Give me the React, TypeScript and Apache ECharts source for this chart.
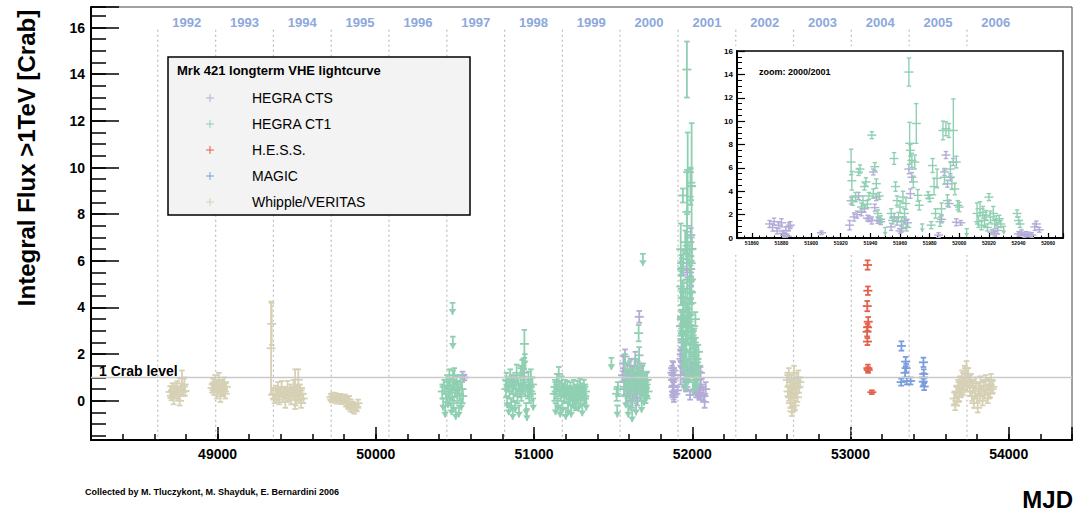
import React, { useEffect, useRef } from 'react';
import * as echarts from 'echarts';

// ---------- axes ----------
const X_MIN = 48200;
const X_MAX = 54400;
const Y_MIN = -1.68;
const Y_MAX = 16.88;
const INSET_X_MIN = 51850;
const INSET_X_MAX = 52070;
const INSET_Y_MIN = 0;
const INSET_Y_MAX = 16;
const CRAB_LEVEL = 1;
const YEAR_LINE_TOP = 15.9;
const YEAR_LABEL_Y = 16.23;

// ---------- years ----------
const yearBoundaries = [48622, 48988, 49353, 49718, 50083, 50449, 50814, 51179, 51544, 51910, 52275, 52640, 53005, 53371, 53736];
const yearEnd2006 = 54101;
const yearLabels = ['1992', '1993', '1994', '1995', '1996', '1997', '1998', '1999', '2000', '2001', '2002', '2003', '2004', '2005', '2006'];

// ---------- instruments ----------
const instrumentNames = ['HEGRA CTS', 'HEGRA CT1', 'H.E.S.S.', 'MAGIC', 'Whipple/VERITAS'];
const instrumentColors = ['#b3acd6', '#8fcfb2', '#e2604c', '#7a9ddd', '#d6d1b5'];

// [MJD, flux (Crab), error, upperLimitArrow]
const hegraCTS = [
  [50548, 1.1, 0.15], [50560, 1.0, 0.12],
  [50858, 0.95, 0.15], [50866, 0.8, 0.2], [50935, 1.2, 0.15],
  [51560, 1.1, 0.3], [51565, 1.6, 0.35], [51570, 0.5, 0.3], [51575, 1.9, 0.3], [51580, 0.9, 0.3],
  [51585, 0.2, 0.3], [51590, 1.3, 0.3], [51595, 0.6, 0.3], [51600, 1.0, 0.3], [51605, 0.3, 0.3],
  [51610, 1.5, 0.3], [51615, 0.8, 0.3], [51620, 0.0, 0.3], [51625, 1.2, 0.3], [51630, 0.6, 0.3],
  [51635, 1.1, 0.3], [51640, 1.8, 0.3], [51644, 0.4, 0.3], [51648, 0.9, 0.3], [51652, 0.1, 0.3],
  [51655, 1.4, 0.3], [51665, 3.6, 0.25], [51670, 1.0, 0.3], [51674, 0.3, 0.3],
  [51678, 0.5, 0.3], [51685, 1.2, 0.3], [51692, 0.7, 0.3], [51700, 0.2, 0.3], [51710, 0.9, 0.3],
  [51872, 1.2, 0.3], [51874, 0.9, 0.3], [51875, 1.4, 0.3], [51877, 0.6, 0.25], [51878, 1.1, 0.3],
  [51880, 1.3, 0.35], [51881, 0.4, 0.2], [51882, 0.25, 0.2], [51883, 0.65, 0.3], [51884, 0.15, 0.2],
  [51885, 0.95, 0.35], [51886, 1.1, 0.3], [51907, 0.45, 0.15],
  [51926, 1.1, 0.4], [51927, 3.2, 0.3], [51929, 1.8, 0.35], [51931, 2.0, 0.3], [51932, 3.6, 0.3],
  [51934, 2.2, 0.3], [51936, 2.5, 0.3], [51938, 1.7, 0.25], [51939, 1.65, 0.25], [51941, 1.5, 0.3],
  [51942, 5.65, 0.25], [51943, 2.6, 0.3], [51944, 3.5, 0.3], [51945, 1.5, 0.25], [51947, 1.4, 0.25],
  [51954, 0.95, 0.3], [51956, 1.8, 0.3], [51958, 1.4, 0.3], [51960, 0.6, 0.2], [51961, 0.8, 0.3],
  [51963, 1.5, 0.3], [51965, 1.3, 0.3], [51966, 5.9, 0.4], [51967, 3.8, 0.4], [51968, 5.2, 0.4],
  [51986, 0.25, 0.2], [51988, 1.6, 0.3], [51990, 5.65, 0.3], [51991, 7.1, 0.3], [51992, 4.65, 0.3],
  [51993, 2.95, 0.3], [51994, 5.2, 0.3], [51996, 6.5, 0.3], [51998, 1.35, 0.3], [52001, 1.3, 0.2],
  [52022, 0.5, 0.2], [52024, 0.35, 0.2], [52026, 0.65, 0.3],
  [52040, 0.35, 0.2], [52042, 0.5, 0.2], [52044, 0.2, 0.15], [52045, 0.35, 0.2], [52047, 0.3, 0.2],
  [52049, 0.25, 0.2], [52051, 0.95, 0.3], [52052, 1.2, 0.25], [52054, 0.7, 0.2],
  [52072, 0.3, 0.3], [52078, -0.05, 0.25], [52085, 0.5, 0.3],
];

const hegraCT1 = [
  // 1997
  [50485, 4.2, 0, 1], [50487, 2.75, 0, 1],
  [50420, 0.4, 0.3], [50425, 0.1, 0.35, 1], [50432, 0.6, 0.3], [50438, -0.2, 0.3, 1], [50445, 0.3, 0.35],
  [50450, 0.8, 0.3], [50455, 0.2, 0.3, 1], [50460, 0.5, 0.35], [50465, 1.0, 0.35], [50468, 0.1, 0.3],
  [50472, 0.65, 0.3], [50478, -0.1, 0.3, 1], [50482, 0.35, 0.3], [50488, 0.9, 0.4], [50492, 0.0, 0.3, 1],
  [50496, 1.1, 0.3], [50500, 0.45, 0.3], [50505, -0.3, 0.3, 1], [50510, 0.7, 0.35], [50515, 0.2, 0.3],
  [50520, 0.55, 0.3], [50525, -0.2, 0.3, 1], [50530, 0.3, 0.3], [50535, 0.8, 0.3], [50540, 0.1, 0.3, 1],
  [50545, 0.5, 0.3], [50550, 0.2, 0.3],
  // 1998
  [50822, 0.5, 0.35], [50826, 0.9, 0.3], [50830, 0.2, 0.35, 1], [50835, 0.7, 0.3], [50840, -0.1, 0.3, 1],
  [50845, 0.4, 0.3], [50850, 1.0, 0.35], [50855, 0.1, 0.3, 1], [50860, 0.6, 0.3], [50865, -0.3, 0.3, 1],
  [50870, 0.3, 0.35], [50875, 0.8, 0.3], [50880, 0.0, 0.3, 1], [50885, 0.5, 0.3], [50890, 1.2, 0.35],
  [50895, 0.2, 0.3], [50900, 0.7, 0.3], [50905, -0.2, 0.3, 1], [50910, 0.45, 0.3], [50915, 1.1, 0.4],
  [50920, 0.3, 0.3], [50925, 1.4, 0.35], [50928, 0.6, 0.3], [50932, 1.8, 0.4, 1], [50936, 1.0, 0.35],
  [50939, 2.44, 0.6], [50942, 2.0, 0.35, 1], [50945, 0.5, 0.3], [50950, -0.1, 0.3, 1], [50955, -0.35, 0.3, 1],
  [50960, 0.4, 0.3], [50965, 0.9, 0.35], [50970, 0.2, 0.3], [50975, 0.6, 0.3], [50980, 1.0, 0.35],
  [50985, 0.3, 0.3], [50990, 0.7, 0.3], [50995, 0.1, 0.3, 1],
  // 1999
  [51128, 0.3, 0.3], [51132, 0.6, 0.3], [51136, -0.1, 0.3, 1], [51140, 0.4, 0.3], [51145, 0.8, 0.35],
  [51150, 0.1, 0.3, 1], [51156, 1.15, 0.3], [51160, 0.5, 0.3], [51165, -0.2, 0.3, 1], [51170, 0.3, 0.3],
  [51175, 0.7, 0.35], [51180, 0.0, 0.3, 1], [51185, 0.45, 0.3], [51190, 0.2, 0.3], [51195, 0.6, 0.3],
  [51200, -0.3, 0.3, 1], [51205, 0.25, 0.3], [51210, 0.55, 0.3], [51215, -0.1, 0.3, 1], [51220, 0.35, 0.3],
  [51225, 0.1, 0.3], [51230, 0.5, 0.3], [51235, -0.2, 0.3, 1], [51240, 0.3, 0.3], [51245, 0.0, 0.3],
  [51250, 0.6, 0.3], [51255, 0.15, 0.3, 1], [51260, 0.4, 0.3], [51265, -0.1, 0.3], [51270, 0.3, 0.3],
  [51275, 0.55, 0.3], [51280, 0.05, 0.3, 1], [51285, 0.35, 0.3], [51290, 0.65, 0.3], [51295, 0.1, 0.3],
  [51300, 0.45, 0.3], [51305, -0.15, 0.3, 1], [51310, 0.3, 0.3], [51315, 0.6, 0.3], [51320, 0.2, 0.3],
  [51325, 0.4, 0.3], [51330, 0.1, 0.3, 1],
  // 2000
  [51489, 1.84, 0, 1], [51522, 0.3, 0.3], [51526, -0.2, 0.3, 1], [51530, 0.5, 0.3],
  [51570, 0.6, 0.35], [51575, 1.6, 0.4], [51580, 0.2, 0.3, 1], [51585, 1.0, 0.35], [51590, 0.4, 0.3],
  [51595, -0.2, 0.3, 1], [51600, 0.8, 0.35], [51605, 1.3, 0.4], [51610, 0.1, 0.3, 1], [51615, 0.6, 0.3],
  [51620, -0.4, 0.3, 1], [51625, 0.9, 0.35], [51630, 0.3, 0.3], [51635, 1.4, 0.4], [51640, 0.5, 0.3],
  [51645, -0.1, 0.3, 1], [51650, 1.1, 0.35], [51655, 0.7, 0.3], [51661, 2.9, 0.35], [51664, 1.95, 0.35],
  [51668, 1.2, 0.4], [51672, 0.4, 0.3], [51676, 0.9, 0.35], [51680, 0.0, 0.3, 1], [51685, 0.6, 0.3],
  [51688, 6.3, 0, 1], [51690, 1.2, 0.4], [51695, 0.3, 0.3, 1], [51700, 0.8, 0.35], [51705, 0.2, 0.3],
  [51710, 0.5, 0.3, 1], [51715, 0.9, 0.35], [51720, 0.4, 0.3],
  // 2000/2001 flare
  [51927, 6.5, 1.1], [51927.5, 4.9, 0.8], [51928, 3.2, 0.4], [51930, 3.5, 0.4], [51932, 5.65, 0.3],
  [51933, 5.9, 0.35], [51934, 2.65, 0.35], [51935, 3.2, 0.4], [51936, 4.4, 0.3], [51937, 4.8, 0.35],
  [51938, 2.9, 0.3], [51939, 3.6, 0.3], [51941, 8.8, 0.3], [51942, 3.8, 0.4], [51943, 6.1, 0.35],
  [51944, 4.65, 0.4], [51945, 2.1, 0.3], [51946, 3.6, 0.3], [51947, 1.6, 0.3], [51950, 0.9, 0, 1],
  [51954, 2.1, 0.4], [51955, 1.5, 0.3], [51956, 6.8, 0.5], [51957, 4.4, 0.4], [51958, 3.2, 0.4],
  [51959, 1.8, 0.4], [51960, 2.65, 0.5], [51961, 1.4, 0.4], [51962, 3.5, 0.5], [51963, 2.1, 0.4],
  [51964, 2.95, 0.5], [51964.5, 0.9, 0.3], [51966, 14.2, 1.2], [51966.5, 8.1, 1.8], [51967, 7.5, 0.5],
  [51968, 6.65, 0.6], [51969, 4.8, 0.5], [51970, 6.5, 0.6], [51971, 9.8, 1.7], [51972, 3.65, 0.5],
  [51973, 2.8, 0.4], [51975, 1.2, 0, 1], [51979, 3.65, 0.3], [51980, 3.4, 0.3], [51981, 1.1, 0.3],
  [51982, 6.2, 0.6], [51983, 4.4, 0.7], [51984, 2.1, 0.4], [51985, 5.1, 0.8], [51987, 1.4, 0.4],
  [51988, 2.5, 0.5], [51989, 9.2, 0.8], [51990, 5.2, 0.6], [51991, 9.35, 0.6], [51992, 3.2, 0.5],
  [51993, 9.2, 0.6], [51994, 5.9, 0.6], [51995, 4.65, 0.5], [51996, 9.2, 2.7], [51997, 4.2, 0.5],
  [51998, 6.5, 0.5], [51999, 2.8, 0.4], [52000, 2.65, 0.4], [52005, 0.8, 0, 1],
  [52012, 2.1, 0.9], [52013, 1.4, 0.5], [52014, 2.5, 0.6], [52015, 1.1, 0.4], [52016, 2.2, 0.5],
  [52017, 1.5, 0.5], [52018, 1.95, 0.4], [52019, 0.9, 0.3], [52020, 3.5, 0.3], [52021, 1.8, 0.5],
  [52023, 2.1, 0.6], [52024, 1.2, 0.4], [52025, 1.5, 0.4], [52027, 1.65, 0.3], [52028, 1.2, 0.3],
  [52030, 1.0, 0, 1], [52039, 2.1, 0.3], [52040, 1.5, 0.3], [52041, 1.2, 0.3],
];

const hess = [
  [53108, 5.82, 0.2], [53110, 4.72, 0.18], [53106, 4.06, 0.22], [53112, 3.39, 0.2], [53108, 3.15, 0.15],
  [53105, 2.96, 0.2], [53107, 2.54, 0.15], [53110, 1.4, 0.15], [53112, 1.32, 0.12], [53135, 0.37, 0.08],
];

const magic = [
  [53322, 2.35, 0.2], [53349, 1.68, 0.2], [53352, 1.4, 0.18], [53345, 1.2, 0.2], [53320, 0.8, 0.15],
  [53356, 0.85, 0.15], [53380, 0.85, 0.15], [53461, 1.65, 0.2], [53463, 1.15, 0.2], [53460, 0.82, 0.15],
  [53466, 0.61, 0.15], [53462, 1.0, 0.18],
];

const whipple = [
  // 1992
  [48700, 0.38, 0.25], [48708, 0.22, 0.2], [48715, 0.45, 0.3], [48722, 0.1, 0.25], [48730, 0.55, 0.2],
  [48738, 0.35, 0.18], [48745, 0.62, 0.22], [48752, 0.28, 0.2], [48760, 0.0, 0.2], [48768, 0.5, 0.25],
  [48775, 0.95, 0.35], [48782, 0.4, 0.2], [48790, 0.7, 0.3], [48795, 0.42, 0.2],
  // 1993
  [48965, 0.55, 0.2], [48972, 0.7, 0.25], [48978, 0.45, 0.2], [48985, 0.8, 0.3], [48990, 0.6, 0.2],
  [48996, 0.35, 0.25], [49002, 0.65, 0.2], [49008, 0.9, 0.3], [49012, 0.5, 0.2], [49018, 0.2, 0.25],
  [49025, 0.7, 0.2], [49030, 0.55, 0.3], [49036, 0.4, 0.2], [49042, 0.75, 0.25], [49048, 0.3, 0.2],
  [49055, 0.6, 0.2],
  // 1994
  [49338, 2.25, 2.0], [49342, 3.3, 0.9],
  [49352, 0.3, 0.25], [49360, 0.1, 0.2], [49368, 0.45, 0.2], [49375, 0.2, 0.25], [49382, 0.5, 0.3],
  [49390, 0.05, 0.2], [49398, 0.35, 0.2], [49405, 0.6, 0.25], [49412, 0.15, 0.2], [49420, 0.4, 0.2],
  [49428, -0.05, 0.25], [49435, 0.3, 0.2], [49442, 0.55, 0.3], [49450, 0.2, 0.2], [49458, 0.45, 0.25],
  [49465, 0.05, 0.2], [49472, 0.35, 0.2], [49480, 0.6, 0.3], [49488, 0.25, 0.2], [49490, 0.5, 0.85],
  [49495, 0.05, 0.25], [49500, 0.5, 0.2], [49506, 0.3, 0.3], [49510, 0.9, 0.45], [49515, 0.2, 0.2],
  [49522, 0.45, 0.25], [49528, -0.1, 0.2], [49535, 0.3, 0.25], [49542, 0.1, 0.2],
  // 1995
  [49715, 0.15, 0.15], [49722, 0.05, 0.12], [49730, 0.2, 0.15], [49738, 0.1, 0.12], [49745, 0.18, 0.15],
  [49752, 0.0, 0.12], [49760, 0.12, 0.15], [49768, 0.08, 0.12], [49775, 0.15, 0.15], [49782, -0.02, 0.12],
  [49790, 0.1, 0.15], [49798, 0.05, 0.12], [49805, 0.12, 0.15], [49812, -0.1, 0.15], [49818, 0.08, 0.12],
  [49825, -0.2, 0.15], [49832, 0.05, 0.15], [49838, -0.3, 0.15], [49845, -0.15, 0.12], [49852, -0.35, 0.15],
  [49858, -0.2, 0.15], [49865, -0.4, 0.15], [49872, -0.25, 0.12], [49880, -0.3, 0.15], [49888, -0.1, 0.15],
  // 2002/2003
  [52600, 0.9, 0.3], [52605, 0.4, 0.25], [52610, 1.1, 0.3], [52612, 0.2, 0.2], [52618, 0.6, 0.25],
  [52620, -0.1, 0.2], [52625, 0.8, 0.3], [52628, 0.3, 0.2], [52630, -0.45, 0.2], [52632, -0.3, 0.2],
  [52635, 0.5, 0.25], [52640, 0.1, 0.2], [52643, 1.2, 0.3], [52648, 0.7, 0.25], [52650, -0.2, 0.2],
  [52655, 0.35, 0.2], [52658, 0.95, 0.25], [52662, 0.55, 0.2], [52665, 0.15, 0.2], [52670, 1.0, 0.3],
  [52675, 0.6, 0.25], [52680, 0.8, 0.2],
  // 2005/2006
  [53655, 0.1, 0.25], [53662, -0.2, 0.2], [53668, 0.4, 0.25], [53675, 0.0, 0.2], [53680, 0.6, 0.3],
  [53686, 0.2, 0.25], [53692, 0.8, 0.25], [53698, 0.35, 0.2], [53705, 1.0, 0.3], [53710, 0.5, 0.25],
  [53716, 0.7, 0.25], [53722, 1.2, 0.3], [53728, 0.9, 0.25], [53733, 1.4, 0.3], [53738, 0.6, 0.2],
  [53744, 1.1, 0.3], [53750, 0.8, 0.25], [53755, 0.4, 0.2], [53762, 0.9, 0.25], [53768, 0.2, 0.2],
  [53774, 0.6, 0.25], [53780, -0.1, 0.2], [53786, 0.4, 0.25], [53792, 0.75, 0.25], [53798, 0.1, 0.2],
  [53804, -0.3, 0.2], [53810, 0.5, 0.25], [53816, 0.2, 0.2], [53822, 0.8, 0.25], [53828, 0.4, 0.2],
  [53835, 0.0, 0.2], [53842, 0.65, 0.25], [53848, 0.3, 0.2], [53855, 0.85, 0.25], [53862, 0.45, 0.2],
  [53868, 0.1, 0.2], [53875, 0.7, 0.25], [53882, 0.35, 0.2], [53888, 0.9, 0.25], [53895, 0.5, 0.2],
  [53900, 0.6, 0.25],
];

const instrumentData = [hegraCTS, hegraCT1, hess, magic, whipple];

const FONT = '"Liberation Sans", Arial, Helvetica, sans-serif';

function norm(pts: number[][]) {
  return pts.map((p) => [p[0], p[1], p[2], p[3] === 1 ? 1 : 0]);
}

function errRender(color: string, s: { cap: number; arm: number; lw: number; head: number; arrow: number }) {
  return (_params: any, api: any) => {
    const x = api.value(0);
    const y = api.value(1);
    const e = api.value(2);
    const ul = api.value(3);
    const p = api.coord([x, y]);
    const st = { stroke: color, lineWidth: s.lw };
    const ch: any[] = [];
    if (ul === 1) {
      ch.push({ type: 'line', shape: { x1: p[0] - s.cap, y1: p[1], x2: p[0] + s.cap, y2: p[1] }, style: st });
      ch.push({ type: 'line', shape: { x1: p[0], y1: p[1], x2: p[0], y2: p[1] + s.arrow }, style: st });
      ch.push({
        type: 'polygon',
        shape: {
          points: [
            [p[0] - s.head, p[1] + s.arrow - s.head * 1.5],
            [p[0] + s.head, p[1] + s.arrow - s.head * 1.5],
            [p[0], p[1] + s.arrow],
          ],
        },
        style: { fill: color },
      });
    } else {
      const hi = api.coord([x, y + e]);
      const lo = api.coord([x, y - e]);
      ch.push({ type: 'line', shape: { x1: p[0], y1: lo[1], x2: p[0], y2: hi[1] }, style: st });
      ch.push({ type: 'line', shape: { x1: p[0] - s.cap, y1: hi[1], x2: p[0] + s.cap, y2: hi[1] }, style: st });
      ch.push({ type: 'line', shape: { x1: p[0] - s.cap, y1: lo[1], x2: p[0] + s.cap, y2: lo[1] }, style: st });
      ch.push({ type: 'line', shape: { x1: p[0] - s.arm, y1: p[1], x2: p[0] + s.arm, y2: p[1] }, style: st });
    }
    return { type: 'group', children: ch };
  };
}

const MAIN_STYLE = { cap: 2.8, arm: 4.5, lw: 1.8, head: 3.8, arrow: 12 };
const INSET_STYLE = { cap: 2.2, arm: 4.5, lw: 1.4, head: 2.5, arrow: 8 };

function txt(text: string, x: number, y: number, font: string, align = 'left', extra: any = {}) {
  return {
    type: 'text',
    x,
    y,
    z: 40,
    ...extra,
    style: {
      text,
      font,
      fill: '#000',
      align,
      verticalAlign: 'middle',
      textAlign: align,
      textVerticalAlign: 'middle',
    },
  };
}

function buildOption() {
  const series: any[] = [];

  // year boundaries (dotted)
  series.push({
    type: 'custom',
    name: 'years',
    xAxisIndex: 0,
    yAxisIndex: 0,
    silent: true,
    z: 1,
    data: yearBoundaries.map((b) => [b, YEAR_LINE_TOP]),
    renderItem: (_p: any, api: any) => {
      const top = api.coord([api.value(0), YEAR_LINE_TOP]);
      const bot = api.coord([api.value(0), Y_MIN]);
      return {
        type: 'line',
        shape: { x1: top[0], y1: top[1], x2: bot[0], y2: bot[1] },
        style: { stroke: '#bdbdbd', lineWidth: 1.2, lineDash: [2, 3] },
      };
    },
  });

  // year labels
  const yearMid = yearBoundaries.map((b, i) => (b + (i + 1 < yearBoundaries.length ? yearBoundaries[i + 1] : yearEnd2006)) / 2);
  series.push({
    type: 'custom',
    name: 'yearLabels',
    xAxisIndex: 0,
    yAxisIndex: 0,
    silent: true,
    z: 1,
    data: yearMid.map((m, i) => [m, YEAR_LABEL_Y, i]),
    renderItem: (_p: any, api: any) => {
      const c = api.coord([api.value(0), api.value(1)]);
      return {
        type: 'text',
        x: c[0],
        y: c[1],
        style: {
          text: yearLabels[api.value(2)],
          font: `bold 13px ${FONT}`,
          fill: '#8ca8dc',
          align: 'center',
          verticalAlign: 'middle',
          textAlign: 'center',
          textVerticalAlign: 'middle',
        },
      };
    },
  });

  // main data
  instrumentData.forEach((d, i) => {
    series.push({
      type: 'custom',
      name: instrumentNames[i],
      xAxisIndex: 0,
      yAxisIndex: 0,
      clip: true,
      z: 2,
      dimensions: ['mjd', 'flux', 'err', 'ul'],
      encode: { x: 0, y: 1 },
      data: norm(d),
      renderItem: errRender(instrumentColors[i], MAIN_STYLE),
    });
  });

  // 1 Crab level
  series.push({
    type: 'line',
    name: '1 Crab level',
    xAxisIndex: 0,
    yAxisIndex: 0,
    silent: true,
    z: 4,
    symbol: 'none',
    data: [
      [X_MIN, CRAB_LEVEL],
      [X_MAX, CRAB_LEVEL],
    ],
    lineStyle: { color: '#c9c9c9', width: 1.6 },
  });

  // inset data (zoom 2000/2001)
  [0, 1].forEach((i) => {
    const d = instrumentData[i].filter((p) => p[0] >= INSET_X_MIN && p[0] <= INSET_X_MAX);
    series.push({
      type: 'custom',
      name: instrumentNames[i] + ' (zoom)',
      xAxisIndex: 2,
      yAxisIndex: 2,
      clip: true,
      z: 12,
      dimensions: ['mjd', 'flux', 'err', 'ul'],
      encode: { x: 0, y: 1 },
      data: norm(d),
      renderItem: errRender(instrumentColors[i], INSET_STYLE),
    });
  });

  const boldLabel = (size: number, margin: number, step: number) => ({
    color: '#000',
    fontWeight: 'bold',
    fontSize: size,
    fontFamily: FONT,
    margin,
    formatter: (v: number) => (Math.abs(v / step - Math.round(v / step)) < 1e-6 ? String(Math.round(v)) : ''),
  });

  const xAxis = [
    {
      gridIndex: 0,
      type: 'value',
      position: 'bottom',
      min: X_MIN,
      max: X_MAX,
      minInterval: 1000,
      maxInterval: 1000,
      splitNumber: 6,
      axisLine: { show: true, onZero: false, lineStyle: { color: '#000', width: 2 } },
      axisTick: { show: true, inside: true, length: 13, lineStyle: { color: '#000', width: 1.5 } },
      axisLabel: boldLabel(14, 7, 1000),
      splitLine: { show: false },
    },
    {
      gridIndex: 0,
      type: 'value',
      position: 'bottom',
      min: X_MIN,
      max: X_MAX,
      interval: 200,
      axisLine: { show: false, onZero: false },
      axisTick: { show: true, inside: true, length: 6, lineStyle: { color: '#000', width: 1.5 } },
      axisLabel: { show: false },
      splitLine: { show: false },
    },
    {
      gridIndex: 1,
      type: 'value',
      position: 'bottom',
      min: INSET_X_MIN,
      max: INSET_X_MAX,
      minInterval: 20,
      maxInterval: 20,
      splitNumber: 11,
      z: 10,
      axisLine: { show: true, onZero: false, lineStyle: { color: '#000', width: 2 } },
      axisTick: { show: true, inside: true, length: 5, lineStyle: { color: '#000', width: 1.2 } },
      axisLabel: boldLabel(5, 2, 20),
      splitLine: { show: false },
    },
    {
      gridIndex: 1,
      type: 'value',
      position: 'bottom',
      min: INSET_X_MIN,
      max: INSET_X_MAX,
      interval: 5,
      z: 10,
      axisLine: { show: false, onZero: false },
      axisTick: { show: true, inside: true, length: 2.5, lineStyle: { color: '#000', width: 1 } },
      axisLabel: { show: false },
      splitLine: { show: false },
    },
  ];

  const yAxis = [
    {
      gridIndex: 0,
      type: 'value',
      position: 'left',
      min: Y_MIN,
      max: Y_MAX,
      minInterval: 2,
      maxInterval: 2,
      splitNumber: 9,
      axisLine: { show: true, onZero: false, lineStyle: { color: '#000', width: 2 } },
      axisTick: { show: true, inside: true, length: 28, lineStyle: { color: '#000', width: 1.5 } },
      axisLabel: boldLabel(14, 6, 2),
      splitLine: { show: false },
    },
    {
      gridIndex: 0,
      type: 'value',
      position: 'left',
      min: Y_MIN,
      max: Y_MAX,
      minInterval: 0.5,
      maxInterval: 0.5,
      splitNumber: 37,
      axisLine: { show: false, onZero: false },
      axisTick: { show: true, inside: true, length: 15, lineStyle: { color: '#000', width: 1.5 } },
      axisLabel: { show: false },
      splitLine: { show: false },
    },
    {
      gridIndex: 1,
      type: 'value',
      position: 'left',
      min: INSET_Y_MIN,
      max: INSET_Y_MAX,
      interval: 2,
      z: 10,
      axisLine: { show: true, onZero: false, lineStyle: { color: '#000', width: 2 } },
      axisTick: { show: true, inside: true, length: 8, lineStyle: { color: '#000', width: 1.2 } },
      minorTick: { show: true, splitNumber: 4, length: 5, lineStyle: { color: '#000', width: 1 } },
      axisLabel: boldLabel(8, 4, 2),
      splitLine: { show: false },
    },
  ];

  // legend (graphic)
  const legendRows = instrumentNames.map((name, i) => {
    const yc = 98 + i * 26;
    return [
      { type: 'line', z: 36, shape: { x1: 206, y1: yc, x2: 214, y2: yc }, style: { stroke: instrumentColors[i], lineWidth: 1 } },
      { type: 'line', z: 36, shape: { x1: 210, y1: yc - 4, x2: 210, y2: yc + 4 }, style: { stroke: instrumentColors[i], lineWidth: 1 } },
      txt(name, 252, yc, `14px ${FONT}`),
    ];
  });

  const graphic = [
    // inset pad
    { type: 'rect', z: 5, shape: { x: 712, y: 46, width: 359, height: 209 }, style: { fill: '#fff' } },
    txt('zoom: 2000/2001', 759, 72, `bold 9px ${FONT}`),
    // legend box
    { type: 'rect', z: 35, shape: { x: 168, y: 57, width: 302, height: 158 }, style: { fill: '#f3f3f3', stroke: '#000', lineWidth: 1.5 } },
    txt('Mrk 421 longterm VHE lightcurve', 177, 70, `bold 13px ${FONT}`),
    ...legendRows.flat(),
    // labels
    txt('1 Crab level', 99, 371, `bold 14px ${FONT}`),
    txt('Integral Flux >1TeV [Crab]', 26, 158, `bold 24px ${FONT}`, 'center', { rotation: Math.PI / 2 }),
    txt('MJD', 1073, 499, `bold 24px ${FONT}`, 'right'),
    txt('Collected by M. Tluczykont, M. Shayduk, E. Bernardini 2006', 85, 492, `bold 9px ${FONT}`),
  ];

  return {
    animation: false,
    backgroundColor: '#fff',
    grid: [
      { left: 91, top: 7, right: 2, bottom: 71, show: true, borderColor: '#444', borderWidth: 1, backgroundColor: 'transparent' },
      { left: 737, top: 51, right: 12, bottom: 273, show: true, borderColor: '#000', borderWidth: 1.5, backgroundColor: 'transparent', z: 8 },
    ],
    xAxis,
    yAxis,
    graphic,
    series,
  };
}

export default function App() {
  const ref = useRef<HTMLDivElement>(null);
  useEffect(() => {
    const chart = echarts.init(ref.current as HTMLDivElement, undefined, { renderer: 'svg' });
    chart.setOption(buildOption() as any);
    return () => chart.dispose();
  }, []);
  return (
    <div
      ref={ref}
      style={{ position: 'fixed', left: 0, top: 0, width: 1075, height: 511, background: '#fff' }}
    />
  );
}
